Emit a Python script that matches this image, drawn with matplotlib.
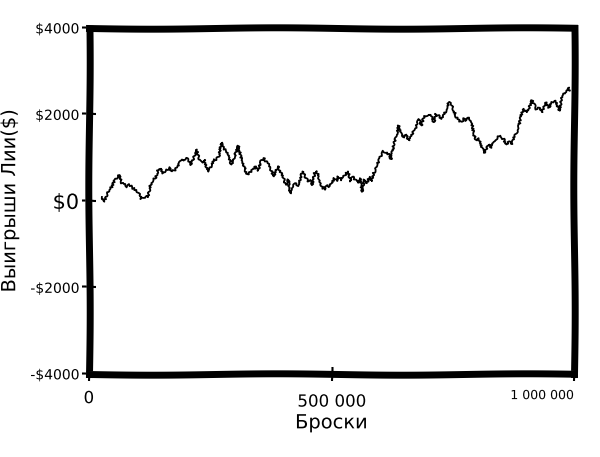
import matplotlib
matplotlib.use("Agg")
import matplotlib.pyplot as plt

# tosses (x) and Leah's winnings in $ (y)
tosses = [
    27000, 32000, 38000, 43000, 48000, 53000, 58000, 63000, 68000, 74000,
    79000, 84000, 91000, 98000, 103000, 108000, 115000, 122000, 127000, 132000,
    137000, 143000, 148000, 153000, 160000, 167000, 171000, 178000, 184000, 189000,
    196000, 201000, 206000, 211000, 217000, 222000, 227000, 232000, 238000, 242000,
    247000, 253000, 258000, 263000, 268000, 273000, 279000, 284000, 289000, 294000,
    300000, 304000, 308000, 313000, 318000, 323000, 328000, 334000, 339000, 344000,
    349000, 355000, 360000, 364000, 370000, 375000, 380000, 385000, 390000, 396000,
    401000, 406000, 411000, 415000, 419000, 425000, 430000, 435000, 440000, 446000,
    451000, 456000, 461000, 465000, 470000, 475000, 480000, 486000, 490000, 495000,
    501000, 506000, 511000, 514000, 521000, 528000, 534000, 539000, 543000, 549000,
    554000, 559000, 563000, 568000, 573000, 578000, 582000, 587000, 591000, 597000,
    603000, 607000, 612000, 618000, 623000, 628000, 633000, 638000, 644000, 649000,
    653000, 659000, 665000, 669000, 674000, 680000, 685000, 690000, 695000, 700000,
    706000, 711000, 715000, 721000, 727000, 731000, 736000, 742000, 747000, 752000,
    757000, 762000, 768000, 773000, 777000, 783000, 789000, 793000, 798000, 804000,
    809000, 814000, 819000, 824000, 830000, 835000, 839000, 845000, 851000, 855000,
    860000, 866000, 871000, 876000, 881000, 886000, 892000, 897000, 901000, 907000,
    913000, 917000, 922000, 928000, 933000, 938000, 943000, 948000, 954000, 959000,
    963000, 969000, 975000, 979000, 984000, 988000, 991000,
]
winnings = [
    90, -20, 170, 290, 330, 490, 520, 600, 410, 370,
    330, 370, 290, 250, 170, 50, 90, 90, 370, 490,
    520, 720, 760, 640, 720, 760, 680, 720, 800, 920,
    960, 990, 920, 840, 1030, 1190, 990, 880, 960, 800,
    680, 840, 960, 960, 1030, 1350, 1190, 1150, 960, 840,
    1030, 1150, 1270, 1030, 880, 680, 600, 680, 720, 800,
    700, 920, 990, 920, 840, 720, 560, 680, 800, 640,
    520, 370, 490, 170, 330, 410, 330, 490, 680, 560,
    450, 490, 370, 640, 680, 490, 330, 250, 370, 330,
    410, 520, 450, 560, 490, 600, 680, 450, 560, 490,
    410, 520, 210, 490, 410, 560, 450, 640, 720, 920,
    1070, 1150, 1110, 1070, 960, 1310, 1460, 1740, 1580, 1460,
    1540, 1390, 1500, 1620, 1700, 1890, 1740, 1930, 1970, 2010,
    1930, 1820, 2010, 1970, 1900, 1970, 2090, 2290, 2210, 2090,
    1930, 1860, 1820, 1900, 1860, 1930, 1820, 1540, 1390, 1430,
    1270, 1110, 1190, 1310, 1230, 1390, 1430, 1500, 1460, 1420,
    1300, 1380, 1300, 1460, 1570, 1730, 2040, 2120, 2040, 2160,
    2320, 2240, 2120, 2160, 2040, 2200, 2280, 2160, 2280, 2320,
    2280, 2080, 2400, 2470, 2550, 2630, 2550,
]

y_ticks = [-4000, -2000, 0, 2000, 4000]
y_labels = ["-$4000", "-$2000", "$0", "$2000", "$4000"]
y_label_sizes = [10, 10, 15, 10, 10]
x_ticks = [0, 500000, 1000000]
x_labels = ["0", "500 000", "1 000 000"]
x_label_sizes = [12, 12, 9]

with plt.xkcd(scale=1, length=100, randomness=2):
    plt.rcParams['font.family'] = ['DejaVu Sans']
    fig = plt.figure(figsize=(6, 4.57), dpi=100)
    ax = fig.add_axes([0.148, 0.182, 0.809, 0.757])

    line, = ax.plot(tosses, winnings, color="black", linewidth=1.3)
    line.set_sketch_params(scale=1.0, length=3, randomness=3)
    line.set_path_effects([])

    ax.set_xlim(0, 1000000)
    ax.set_ylim(-4000, 4000)

    # thick frame, only gently wavy
    for sp in ax.spines.values():
        sp.set_linewidth(5)
        sp.set_color("black")
        sp.set_sketch_params(scale=0.7, length=250, randomness=1)

    ax.set_yticks(y_ticks)
    ax.set_yticklabels(y_labels)
    for lab, fs in zip(ax.get_yticklabels(), y_label_sizes):
        lab.set_fontsize(fs)
    ax.set_xticks(x_ticks)
    ax.set_xticklabels(x_labels)
    for lab, fs in zip(ax.get_xticklabels(), x_label_sizes):
        lab.set_fontsize(fs)
    # last x label sits left of its tick, as in the drawing
    ax.get_xticklabels()[-1].set_horizontalalignment("right")
    ax.get_xticklabels()[1].set_y(-0.01)
    ax.tick_params(axis="both", direction="inout", length=10, width=1.5, pad=2)
    ax.tick_params(axis="x", pad=6)

    ax.set_xlabel("Броски", fontsize=14, labelpad=2)
    ax.set_ylabel("Выигрыши Лии($)", fontsize=14, labelpad=8)

    fig.savefig("out.png", dpi=100)
